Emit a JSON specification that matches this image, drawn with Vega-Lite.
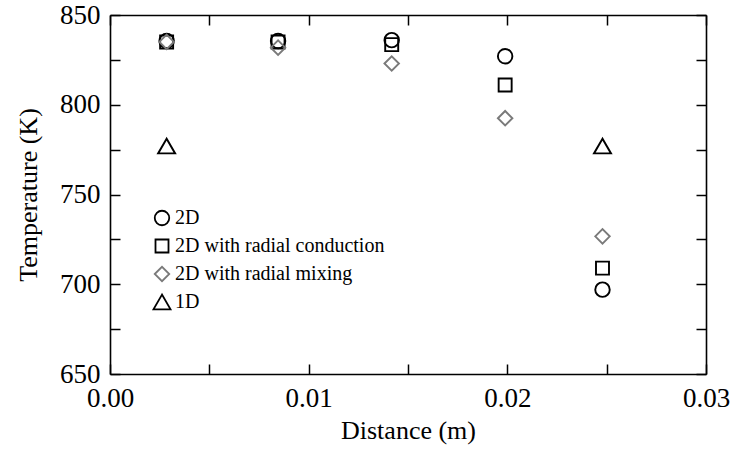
{
  "$schema": "https://vega.github.io/schema/vega-lite/v6.json",
  "width": 596,
  "height": 359,
  "autosize": "none",
  "padding": {"left": 110, "top": 15, "right": 26, "bottom": 81},
  "background": "white",
  "config": {
    "view": {"stroke": null},
    "font": "Liberation Serif",
    "axis": {
      "grid": false,
      "domainColor": "black",
      "domainWidth": 1.6,
      "tickColor": "black",
      "tickWidth": 1.5,
      "tickSize": -10,
      "labelFont": "Liberation Serif",
      "labelFontSize": 27,
      "labelColor": "black",
      "titleFont": "Liberation Serif",
      "titleFontSize": 26,
      "titleFontWeight": "normal",
      "titleColor": "black",
      "labelFlush": false,
      "labelOverlap": false
    },
    "legend": {
      "orient": "none",
      "legendX": 42,
      "legendY": 193,
      "padding": 0,
      "rowPadding": 6,
      "labelOffset": 3,
      "labelLimit": 0,
      "labelFont": "Liberation Serif",
      "labelFontSize": 20,
      "labelColor": "black",
      "symbolStrokeWidth": 1.8
    }
  },
  "data": {
    "values": [
      {"series": "2D", "distance": 0.00285, "temperature": 835.5},
      {"series": "2D", "distance": 0.00846, "temperature": 835.5},
      {"series": "2D", "distance": 0.01418, "temperature": 836},
      {"series": "2D", "distance": 0.01989, "temperature": 827},
      {"series": "2D", "distance": 0.02479, "temperature": 697},
      {"series": "2D with radial conduction", "distance": 0.00285, "temperature": 835},
      {"series": "2D with radial conduction", "distance": 0.00846, "temperature": 835},
      {"series": "2D with radial conduction", "distance": 0.01418, "temperature": 833.5},
      {"series": "2D with radial conduction", "distance": 0.01989, "temperature": 811},
      {"series": "2D with radial conduction", "distance": 0.02479, "temperature": 709},
      {"series": "2D with radial mixing", "distance": 0.00285, "temperature": 835},
      {"series": "2D with radial mixing", "distance": 0.00846, "temperature": 831.8},
      {"series": "2D with radial mixing", "distance": 0.01418, "temperature": 823},
      {"series": "2D with radial mixing", "distance": 0.01989, "temperature": 792.5},
      {"series": "2D with radial mixing", "distance": 0.02479, "temperature": 726.7},
      {"series": "1D", "distance": 0.00285, "temperature": 777},
      {"series": "1D", "distance": 0.02479, "temperature": 777}
    ]
  },
  "layer": [
    {
      "mark": {"type": "point", "filled": false, "strokeWidth": 1.9, "opacity": 1},
      "encoding": {
        "x": {
          "field": "distance", "type": "quantitative",
          "scale": {"domain": [0, 0.03], "nice": false, "zero": false},
          "axis": {
            "orient": "bottom",
            "title": "Distance (m)",
            "values": [0, 0.005, 0.01, 0.015, 0.02, 0.025, 0.03],
            "labelExpr": "round(datum.value*200) % 2 == 0 ? format(datum.value, '.2f') : ''",
            "labelPadding": 21,
            "titlePadding": 6
          }
        },
        "y": {
          "field": "temperature", "type": "quantitative",
          "scale": {"domain": [650, 850], "nice": false, "zero": false},
          "axis": {
            "orient": "left",
            "title": "Temperature (K)",
            "values": [650, 675, 700, 725, 750, 775, 800, 825, 850],
            "labelExpr": "datum.value % 50 == 0 ? datum.label : ''",
            "labelPadding": 20,
            "titlePadding": 18
          }
        },
        "shape": {
          "field": "series", "type": "nominal", "title": null,
          "scale": {
            "domain": ["2D", "2D with radial conduction", "2D with radial mixing", "1D"],
            "range": ["circle", "square", "diamond", "triangle-up"]
          }
        },
        "color": {
          "field": "series", "type": "nominal", "title": null,
          "scale": {
            "domain": ["2D", "2D with radial conduction", "2D with radial mixing", "1D"],
            "range": ["#000000", "#000000", "#7a7a7a", "#000000"]
          }
        },
        "size": {
          "field": "series", "type": "nominal", "title": null,
          "scale": {
            "type": "ordinal",
            "domain": ["2D", "2D with radial conduction", "2D with radial mixing", "1D"],
            "range": [210, 169, 210, 290]
          }
        }
      }
    },
    {
      "mark": {"type": "point", "opacity": 0},
      "encoding": {
        "x": {
          "field": "distance", "type": "quantitative",
          "scale": {"domain": [0, 0.03], "nice": false, "zero": false},
          "axis": {
            "orient": "top", "title": null, "labels": false,
            "values": [0, 0.005, 0.01, 0.015, 0.02, 0.025, 0.03]
          }
        },
        "y": {
          "field": "temperature", "type": "quantitative",
          "scale": {"domain": [650, 850], "nice": false, "zero": false},
          "axis": {
            "orient": "right", "title": null, "labels": false,
            "values": [650, 675, 700, 725, 750, 775, 800, 825, 850]
          }
        }
      }
    }
  ],
  "resolve": {"scale": {"x": "independent", "y": "independent"}}
}
